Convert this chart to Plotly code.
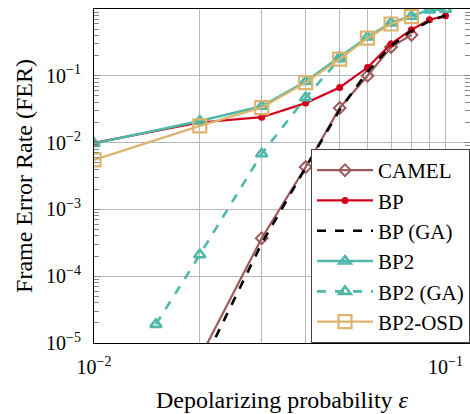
import plotly.graph_objects as go

# ---- data ----
x_all = [0.01, 0.02, 0.03, 0.04, 0.05, 0.06, 0.07, 0.08, 0.09, 0.1]

camel_x = [0.02, 0.03, 0.04, 0.05, 0.06, 0.07, 0.08]
camel_y = [6e-6, 3.7e-4, 4.3e-3, 3.3e-2, 0.10, 0.27, 0.41]

bp_x = x_all
bp_y = [0.0099, 0.020, 0.024, 0.039, 0.067, 0.133, 0.30, 0.49, 0.69, 0.79]

bpga_x = [0.02, 0.03, 0.04, 0.05, 0.06, 0.07, 0.08, 0.09, 0.1]
bpga_y = [4e-6, 3.1e-4, 4.2e-3, 3.1e-2, 0.115, 0.28, 0.47, 0.66, 0.80]

bp2_x = x_all
bp2_y = [0.0097, 0.021, 0.035, 0.082, 0.19, 0.38, 0.62, 0.78, 0.97, 0.99]

bp2ga_x = [0.015, 0.02, 0.03, 0.04, 0.05]
bp2ga_y = [1.9e-5, 2.1e-4, 6.8e-3, 0.047, 0.18]

osd_x = [0.01, 0.02, 0.03, 0.04, 0.05, 0.06, 0.07, 0.08]
osd_y = [0.0055, 0.0178, 0.0335, 0.079, 0.178, 0.367, 0.596, 0.77]

y_major = [1e-5, 1e-4, 1e-3, 1e-2, 1e-1, 1e0]
y_major_text = ["10<sup>−5</sup>", "10<sup>−4</sup>", "10<sup>−3</sup>",
                "10<sup>−2</sup>", "10<sup>−1</sup>", "10<sup>0</sup>"]
x_major = [0.01, 0.1]
x_major_text = ["10<sup>−2</sup>", "10<sup>−1</sup>"]

# ---- styles ----
C_CAMEL = "#9c5a5a"
C_BP = "#d0021b"
C_BP2 = "#4fb8a8"
C_OSD = "#dcb46c"
FONT = "Liberation Serif"

fig = go.Figure()
fig.add_trace(go.Scatter(x=camel_x, y=camel_y, name="CAMEL", mode="lines+markers",
                         line=dict(color=C_CAMEL, width=2.2),
                         marker=dict(symbol="diamond-open", size=9, color=C_CAMEL,
                                     line=dict(width=2, color=C_CAMEL)),
                         legendgroup="a"))
fig.add_trace(go.Scatter(x=bp_x, y=bp_y, name="BP", mode="lines+markers",
                         line=dict(color=C_BP, width=2.2),
                         marker=dict(symbol="circle", size=7, color=C_BP),
                         legendgroup="b"))
fig.add_trace(go.Scatter(x=bpga_x, y=bpga_y, name="BP (GA)", mode="lines",
                         line=dict(color="black", width=2.6, dash="dash"),
                         legendgroup="c"))
fig.add_trace(go.Scatter(x=bp2_x, y=bp2_y, name="BP2", mode="lines+markers",
                         line=dict(color=C_BP2, width=2.6),
                         marker=dict(symbol="triangle-up-open", size=10, color=C_BP2,
                                     line=dict(width=2.6, color=C_BP2)),
                         legendgroup="d"))
fig.add_trace(go.Scatter(x=bp2ga_x, y=bp2ga_y, name="BP2 (GA)", mode="lines+markers",
                         line=dict(color=C_BP2, width=2.6, dash="dash"),
                         marker=dict(symbol="triangle-up-open", size=10, color=C_BP2,
                                     line=dict(width=2.6, color=C_BP2)),
                         legendgroup="e"))
fig.add_trace(go.Scatter(x=osd_x, y=osd_y, name="BP2-OSD", mode="lines+markers",
                         line=dict(color=C_OSD, width=2.2),
                         marker=dict(symbol="square-open", size=13, color=C_OSD,
                                     line=dict(width=2.2, color=C_OSD)),
                         legendgroup="f"))

y_minor = [k * 10.0 ** e for e in range(-5, 0) for k in range(2, 10)]
x_minor = [k * 0.01 for k in range(2, 10)]

fig.update_layout(
    width=470, height=414,
    margin=dict(l=94, r=0, t=9, b=71),
    paper_bgcolor="white", plot_bgcolor="white",
    font=dict(family=FONT, size=20, color="black"),
    showlegend=True,
    legend=dict(x=1, y=0, xanchor="right", yanchor="bottom",
                bgcolor="white", bordercolor="#444", borderwidth=1,
                font=dict(family=FONT, size=21), tracegroupgap=0,
                itemwidth=56),
    xaxis=dict(type="log", range=[-2, -0.9303],
               tickvals=x_major, ticktext=x_major_text,
               showgrid=True, gridcolor="#b8b8b8", gridwidth=1,
               showline=True, linecolor="black", linewidth=1, mirror=True,
               ticks="", zeroline=False,
               minor=dict(tickvals=x_minor, showgrid=True, gridcolor="#b8b8b8",
                          gridwidth=1, ticks=""),
               ticklabelstandoff=6,
               title=dict(text="Depolarizing probability <i>ε</i>", standoff=14),
               tickfont=dict(size=20)),
    yaxis=dict(type="log", range=[-5, 0],
               tickvals=y_major, ticktext=y_major_text,
               showgrid=True, gridcolor="#b8b8b8", gridwidth=1,
               showline=True, linecolor="black", linewidth=1, mirror="allticks",
               ticks="inside", ticklen=6, tickcolor="#888",
               minor=dict(tickvals=y_minor, ticks="inside", ticklen=5,
                          tickcolor="#888", showgrid=False),
               ticklabelstandoff=8,
               title=dict(text="Frame Error Rate (FER)", standoff=6),
               tickfont=dict(size=20)),
)

fig.write_html("out.html", config={"displayModeBar": False},
               post_script="document.body.style.margin='0';")
